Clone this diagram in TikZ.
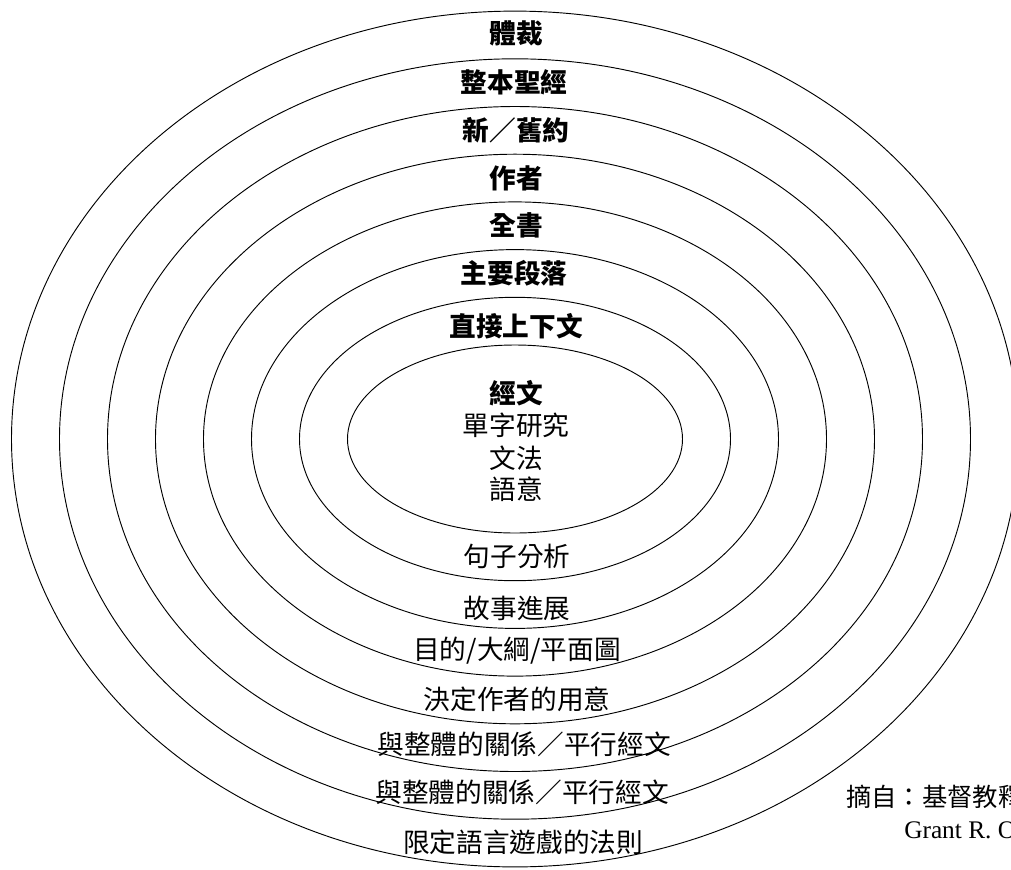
\documentclass[tikz,border=0pt]{standalone}
\usepackage{fontspec}
\newfontfamily\cjk{Noto Sans CJK TC}
\newfontfamily\latinserif{Liberation Serif}
\usepackage{tikz}

\begin{document}
\begin{tikzpicture}[x=0.75pt,y=-0.75pt,
    ring/.style={line width=0.7pt},
    toplabel/.style={inner sep=0pt,font=\cjk\bfseries\fontsize{20}{24}\selectfont},
    lowlabel/.style={inner sep=0pt,font=\cjk\fontsize{20}{24}\selectfont},
    citelabel/.style={inner sep=0pt,anchor=west}]
        % Frame
        \useasboundingbox (0,0) rectangle (1011,869);
        \clip (0,0) rectangle (1011,869);

        % Rings, from the innermost outwards
        \foreach \k in {0,...,7}
            \draw[ring] (515,439) ellipse [x radius={167.5+48*\k}, y radius={94+47.7*\k}];

        % Upper labels
        \node[toplabel] (genre) at (516,33) {體裁};
        \node[toplabel] (bible) at (514,82) {整本聖經};
        \node[toplabel] (testament) at (516,130) {新／舊約};
        \node[toplabel] (author) at (516,178) {作者};
        \node[toplabel] (book) at (516,225) {全書};
        \node[toplabel] (section) at (514,273) {主要段落};
        \node[toplabel] (context) at (516,326) {直接上下文};

        % Centre
        \node[toplabel] (text) at (516,393) {經文};
        \node[lowlabel] (words) at (516,425) {單字研究};
        \node[lowlabel] (grammar) at (516,458) {文法};
        \node[lowlabel] (semantics) at (516,489) {語意};

        % Lower labels
        \node[lowlabel] (sentence) at (517,556) {句子分析};
        \node[lowlabel] (story) at (517,608) {故事進展};
        \node[lowlabel] (outline) at (517,651) {目的/大綱/平面圖};
        \node[lowlabel] (intent) at (517,699) {決定作者的用意};
        \node[lowlabel] (whole) at (524,744) {與整體的關係／平行經文};
        \node[lowlabel] (wholeb) at (522,792) {與整體的關係／平行經文};
        \node[lowlabel] (rules) at (523,842) {限定語言遊戲的法則};

        % Source
        \node[citelabel,font=\cjk\fontsize{19}{22}\selectfont] (source) at (846,797) {摘自：基督教釋};
        \node[citelabel,font=\latinserif\fontsize{19}{22}\selectfont] (sourceauthor) at (904,830) {Grant R. O};
    \end{tikzpicture}
\end{document}
